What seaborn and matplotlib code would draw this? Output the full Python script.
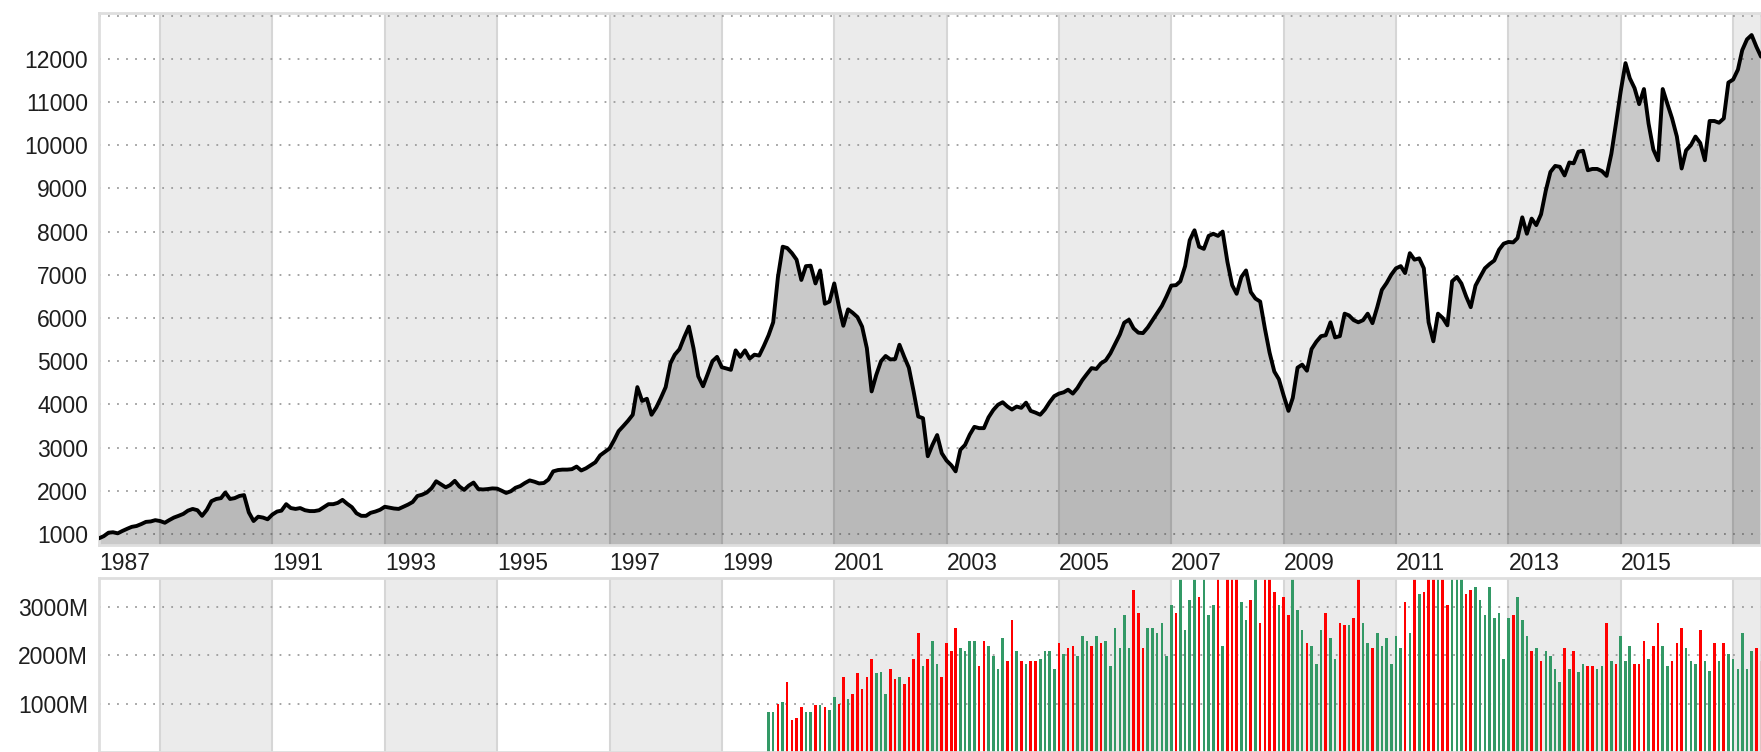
import datetime as dt
import pandas as pd
import matplotlib
matplotlib.use("Agg")
import matplotlib.pyplot as plt
import seaborn as sns

# ---------------- data ----------------
# monthly index level, Dec 1987 .. Jul 2017
price = [
    900, 950, 1030, 1040, 1015, 1070, 1120, 1165, 1185, 1230,
    1280, 1290, 1320, 1300, 1260, 1320, 1380, 1420, 1465, 1540,
    1580, 1550, 1420, 1560, 1760, 1810, 1830, 1960, 1810, 1830,
    1880, 1900, 1500, 1300, 1400, 1380, 1340, 1450, 1520, 1540,
    1690, 1600, 1580, 1600, 1550, 1530, 1530, 1550, 1620, 1690,
    1690, 1720, 1790, 1700, 1620, 1480, 1420, 1420, 1490, 1520,
    1560, 1630, 1610, 1590, 1580, 1630, 1680, 1740, 1880, 1910,
    1960, 2060, 2220, 2150, 2080, 2130, 2230, 2100, 2020, 2120,
    2190, 2040, 2030, 2040, 2055, 2050, 2000,
    1950, 1990, 2070, 2110, 2180, 2240, 2210, 2170, 2180, 2260,
    2450, 2480, 2490, 2490, 2500, 2560, 2470, 2520, 2590, 2660,
    2820, 2900, 2980, 3180, 3380, 3500, 3620, 3760, 4400, 4080,
    4130, 3760, 3930, 4150, 4400, 4950, 5150, 5280, 5550, 5800,
    5300, 4650, 4420, 4700, 5000, 5100, 4860, 4830, 4800, 5250,
    5100, 5250, 5060, 5150, 5130, 5350, 5600, 5900, 6950, 7650,
    7620, 7500, 7350, 6880, 7200, 7210, 6800, 7100, 6330, 6380,
    6800, 6250, 5820, 6200, 6120, 6020, 5800, 5300, 4300, 4680,
    5000, 5120, 5040, 5050, 5380, 5100, 4850, 4300, 3720,
    3680, 2800, 3060, 3290, 2870, 2700, 2590, 2450, 2950, 3060,
    3300, 3480, 3450, 3450, 3700, 3870, 3990, 4050, 3950, 3880,
    3950, 3920, 4040, 3850, 3810, 3760, 3880, 4050, 4190, 4250,
    4280, 4340, 4250, 4380, 4560, 4700, 4840, 4820, 4950, 5020,
    5180, 5400, 5620, 5890, 5960, 5760, 5660, 5650, 5780, 5950,
    6110, 6280, 6500, 6750, 6760, 6850, 7200, 7800, 8030, 7650,
    7600, 7900, 7950, 7900, 8000, 7300, 6760, 6560, 6950, 7100,
    6600, 6450, 6380, 5750, 5200, 4760, 4580, 4200, 3850, 4150,
    4850, 4920, 4780, 5280, 5450, 5580,
    5600, 5900, 5550, 5580, 6100, 6060, 5950, 5900, 5950, 6100,
    5880, 6250, 6650, 6810, 7000, 7150, 7200, 7040, 7500, 7350,
    7380, 7150, 5900, 5460, 6100, 6000, 5830, 6850, 6950, 6800,
    6500, 6250, 6750, 6950, 7150, 7250, 7330, 7580, 7720, 7760,
    7750, 7850, 8330, 7950, 8300, 8150, 8400, 8950, 9380, 9520,
    9500, 9300, 9600, 9580, 9850, 9870, 9420, 9450, 9450, 9400,
    9290, 9800, 10500, 11250, 11900, 11550, 11320, 10950, 11300, 10500,
    9900, 9650, 11300, 10950, 10620, 10200, 9460, 9880, 10000, 10200,
    10050, 9650, 10560, 10560, 10520, 10620, 11450, 11520, 11750, 12200,
    12450, 12550, 12280, 12050,
]

# monthly volume in millions, Nov 1999 .. Jul 2017
volume = [
    820, 820, 990, 1030, 1450, 660, 710, 920, 820, 820,
    970, 970, 920, 870, 1140, 990, 1550, 1090, 1190, 1620,
    1290, 1550, 1920, 1620, 1660, 1190, 1710, 1510, 1550, 1400,
    1550, 1920, 2460, 1770, 1920, 2300, 1820, 1550, 2240, 2080,
    2560, 2140, 2080, 2300, 2300, 1770, 2300, 2180, 1980, 1720,
    2360, 1880, 2720, 2080, 1880, 1820, 1880, 1880, 1920, 2080,
    2080, 1720, 2240, 2030, 2140, 2180, 1980, 2400, 2300, 2180,
    2400, 2240, 2300, 1770, 2560, 2140, 2820, 2140, 3350, 2870,
    2140, 2560, 2560, 2460, 2660, 1980, 3040, 2870, 3700, 2510,
    3140, 3700, 3190, 3700, 2820, 3040, 3700, 2180, 3700, 3700,
    3700, 3090, 2720, 3140, 3700, 2660,
    3700, 3700, 3300, 3030,
    3190, 2820, 3700, 2940, 2510, 2240, 2180, 1820, 2510, 2870,
    2360, 1920, 2660, 2620, 2620, 2770, 3700, 2660, 2240, 2140,
    2460, 2180, 2360, 1820, 2400, 2140, 3090, 2460, 3700, 3250,
    3300, 3700, 3700, 3700, 3700, 3040, 3700, 3700, 3700, 3250,
    3350, 3400, 3140, 2820, 3400, 2770, 2870, 1920, 2770, 2820,
    3190, 2720, 2400, 2080, 2140, 1880, 2080, 1980, 1720, 1450,
    2140, 1720, 2080, 1660, 1820, 1770, 1770, 1720, 1770, 2660,
    1880, 1820, 2400, 1880, 2180, 1820, 1820, 2300, 1920, 2180,
    2660, 2180, 1770, 1880, 2240, 2560, 2140, 1880, 1820, 2510,
    1880, 1670, 2240, 1880, 2240, 2030, 1920, 1720, 2460, 1720,
    2080, 2140, 1880,
]

# G = month closed up, R = month closed down
vol_dir = list(
    "GGRGRRRRGG" "RGRGGRRGRR" "RRRGGGRRGR" "RRRGRGGRRR" "RGGGGRRGGG"
    "GRRGRGRRGG" "GGRGRRGGGR" "GRGGGGGGRR" "RGGGGGGRGG" "GGRGGGRGRR"
    "RGGRGR" "RRRG"
    "RRGGGRGGGR" "GGRRGRRGGR" "GGGGGGRGRG" "RRRGRRGGGR" "RGGGGGGGGR"
    "GGGRGRGGGG" "RGRGGRRGGR" "GRGGGRRRGR" "RGGRRRGGGR" "GGRGRGGGGG"
    "GRR"
)

first_label = "1987"
years_ticked = list(range(1989, 2018, 2))
# 1989 is crowded out by the first label, 2017 sits at the right edge
years_hidden = {1989, 2017}

dates = pd.date_range("1987-12-01", periods=len(price), freq="MS")
vol_dates = dates[-len(volume):]
df = pd.DataFrame({"date": dates, "close": price})

# ---------------- style ----------------
sns.set_style("white")
plt.rcParams["font.family"] = ["Liberation Sans", "DejaVu Sans"]

BAND = "#ebebeb"
EDGE = "#d6d6d6"
SPINE = "#dedede"
GRID = dict(linestyle=(0, (1, 4)), color="#9c9c9c", linewidth=1.3)
TXT = "#1e1e1e"
FS = 16.5

W, H = 1761, 752
fig = plt.figure(figsize=(W / 100, H / 100), dpi=100)
left = 99 / W
ax1 = fig.add_axes([left, 1 - 545 / H, 1 - left, (545 - 13) / H])
ax2 = fig.add_axes([left, 0, 1 - left, (H - 578) / H])


def decorate(ax):
    for y in range(1989, 2018, 4):
        ax.axvspan(dt.datetime(y, 1, 1), dt.datetime(y + 2, 1, 1), color=BAND, lw=0, zorder=0)
    for y in years_ticked:
        ax.axvline(dt.datetime(y, 1, 1), color=EDGE, lw=1.5, zorder=0.5)
    ax.set_axisbelow(True)
    ax.grid(axis="y", **GRID)
    ax.grid(axis="x", visible=False)
    for s in ax.spines.values():
        s.set_color(SPINE)
        s.set_linewidth(2)
    ax.set_xlim(dates[0], dates[-1])
    ax.tick_params(axis="x", direction="in", length=11, width=1.3, color="#555555",
                   labelsize=FS, labelcolor=TXT, pad=5)
    ax.tick_params(axis="y", direction="in", length=7, width=1.6, color="#555555",
                   labelsize=FS, labelcolor=TXT, pad=8)


# ---------------- price panel ----------------
decorate(ax1)
ax1.fill_between(df["date"], df["close"], 0, color="black", alpha=0.21, lw=0, zorder=2)
sns.lineplot(data=df, x="date", y="close", color="black", linewidth=2.8, ax=ax1, zorder=3)
ax1.set_ylim(745, 13060)
yt = list(range(1000, 14000, 1000))
ax1.set_yticks(yt)
ax1.set_yticklabels([str(v) if v <= 12000 else "" for v in yt])
xt = [dates[0]] + [dt.datetime(y, 1, 1) for y in years_ticked]
xl = [first_label] + ["" if y in years_hidden else str(y) for y in years_ticked]
ax1.set_xticks(xt)
ax1.set_xticklabels(xl, ha="left")
ax1.set_xlim(dates[0], dates[-1])
ax1.set_xlabel("")
ax1.set_ylabel("")

# ---------------- volume panel ----------------
decorate(ax2)
colors = ["#339966" if d == "G" else "#ff0000" for d in vol_dir]
ax2.bar(vol_dates, volume, width=17, color=colors, lw=0, zorder=2)
ax2.set_ylim(0, 3590)
ax2.set_yticks([1000, 2000, 3000])
ax2.set_yticklabels([f"{v}M" for v in [1000, 2000, 3000]])
ax2.set_xticks([dt.datetime(y, 1, 1) for y in years_ticked])
ax2.set_xticklabels([])
ax2.set_xlim(dates[0], dates[-1])

fig.savefig("out.png", dpi=100)
